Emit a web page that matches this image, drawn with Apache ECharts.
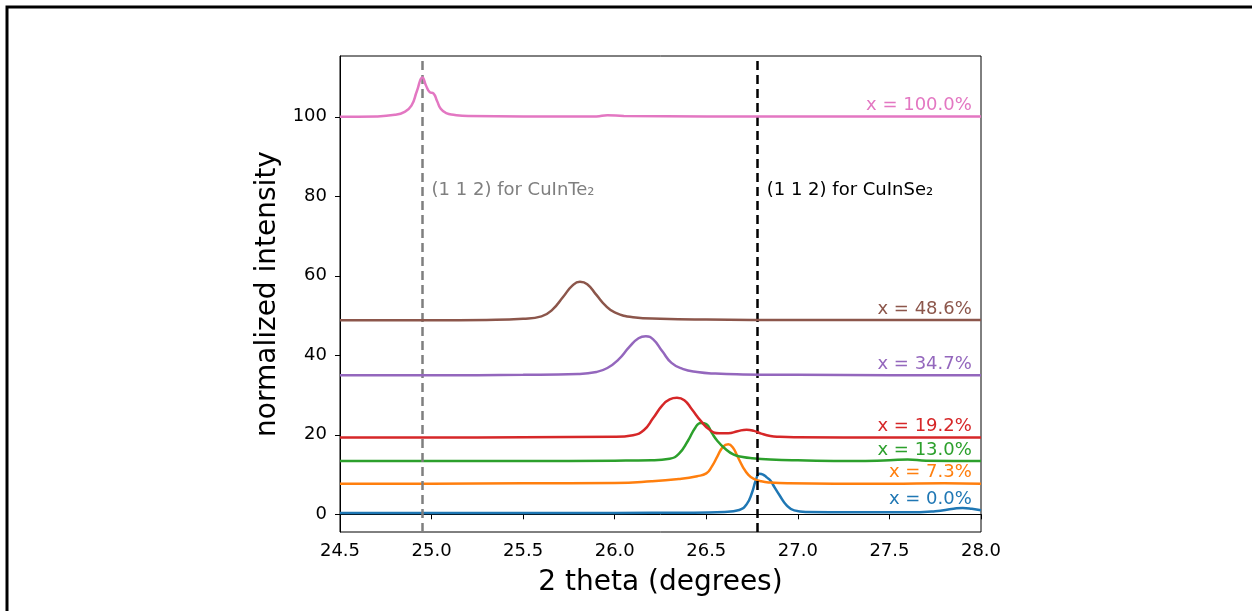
<!DOCTYPE html>
<html>
<head>
<meta charset="utf-8">
<script src="https://cdn.jsdelivr.net/npm/echarts@6/dist/echarts.min.js"></script>
<style>
html,body{margin:0;padding:0;background:#fff;}
#chart{width:1252px;height:611px;}
</style>
</head>
<body>
<div id="chart"></div>
<script>
// ---- data ----
const xTicks = [24.5, 25.0, 25.5, 26.0, 26.5, 27.0, 27.5, 28.0];
const yTicks = [0, 20, 40, 60, 80, 100];

const names = ['x = 0.0%', 'x = 7.3%', 'x = 13.0%', 'x = 19.2%', 'x = 34.7%', 'x = 48.6%', 'x = 100.0%'];
const colors = ['#1f77b4', '#ff7f0e', '#2ca02c', '#d62728', '#9467bd', '#8c564b', '#e377c2'];

const theta0 = [24.5, 25.0, 25.5, 26.0, 26.4, 26.6, 26.68, 26.72, 26.75, 26.77, 26.79, 26.81, 26.83, 26.85, 26.87, 26.9, 26.94, 26.98, 27.05, 27.3, 27.6, 27.75, 27.85, 27.9, 27.95, 28.0];
const int0   = [0.3, 0.3, 0.3, 0.35, 0.4, 0.6, 1.1, 2.5, 5.5, 8.5, 10.2, 10.0, 9.3, 8.5, 7.0, 4.8, 2.2, 1.0, 0.6, 0.5, 0.5, 0.8, 1.4, 1.6, 1.4, 1.0];

const theta7 = [24.5, 25.0, 25.5, 26.0, 26.2, 26.35, 26.45, 26.5, 26.53, 26.56, 26.59, 26.62, 26.645, 26.67, 26.7, 26.73, 26.76, 26.8, 26.85, 26.95, 27.2, 27.5, 27.8, 28.0];
const int7   = [7.7, 7.7, 7.8, 7.9, 8.3, 8.9, 9.6, 10.3, 12.0, 14.5, 16.9, 17.6, 16.8, 14.6, 11.9, 9.9, 8.9, 8.3, 8.0, 7.8, 7.7, 7.7, 7.8, 7.7];

const theta13 = [24.5, 25.0, 25.5, 26.0, 26.2, 26.3, 26.35, 26.4, 26.44, 26.47, 26.5, 26.53, 26.56, 26.6, 26.65, 26.7, 26.75, 26.85, 27.0, 27.3, 27.5, 27.6, 27.7, 28.0];
const int13   = [13.4, 13.4, 13.4, 13.5, 13.6, 14.0, 15.2, 18.5, 21.8, 23.0, 22.7, 20.5, 18.5, 16.6, 15.0, 14.4, 14.1, 13.8, 13.6, 13.4, 13.6, 13.8, 13.5, 13.4];

const theta19 = [24.5, 25.0, 25.5, 26.0, 26.1, 26.16, 26.21, 26.26, 26.3, 26.34, 26.38, 26.42, 26.47, 26.52, 26.57, 26.62, 26.67, 26.72, 26.76, 26.8, 26.85, 26.9, 27.0, 27.5, 28.0];
const int19   = [19.3, 19.3, 19.4, 19.5, 19.9, 21.2, 24.2, 27.4, 28.9, 29.3, 28.7, 26.5, 23.5, 21.2, 20.4, 20.4, 20.9, 21.3, 21.0, 20.3, 19.7, 19.5, 19.4, 19.3, 19.3];

const theta35 = [24.5, 25.0, 25.5, 25.8, 25.9, 25.96, 26.02, 26.08, 26.13, 26.17, 26.21, 26.26, 26.31, 26.37, 26.45, 26.55, 26.7, 27.0, 27.5, 28.0];
const int35   = [35.0, 35.0, 35.1, 35.3, 35.8, 36.8, 38.9, 42.1, 44.3, 44.8, 44.0, 41.0, 38.1, 36.6, 35.8, 35.4, 35.2, 35.1, 35.0, 35.0];

const theta49 = [24.5, 25.0, 25.3, 25.5, 25.6, 25.66, 25.72, 25.77, 25.81, 25.85, 25.9, 25.95, 26.0, 26.1, 26.25, 26.5, 27.0, 27.5, 28.0];
const int49   = [48.8, 48.8, 48.9, 49.2, 49.8, 51.5, 54.8, 57.6, 58.5, 57.9, 55.2, 52.5, 50.8, 49.6, 49.2, 49.0, 48.9, 48.9, 48.9];

const theta100 = [24.5, 24.7, 24.8, 24.85, 24.89, 24.92, 24.95, 24.97, 24.99, 25.01, 25.03, 25.05, 25.08, 25.12, 25.2, 25.5, 25.9, 25.96, 26.05, 26.5, 27.0, 27.5, 28.0];
const int100   = [100.0, 100.1, 100.5, 101.2, 102.8, 106.5, 109.9, 107.8, 106.2, 105.9, 104.0, 102.0, 100.9, 100.5, 100.2, 100.1, 100.1, 100.4, 100.2, 100.1, 100.1, 100.1, 100.1];

const thetas = [theta0, theta7, theta13, theta19, theta35, theta49, theta100];
const ints = [int0, int7, int13, int19, int35, int49, int100];

const refTe = 24.95, refSe = 26.78;
const refLabels = ['(1 1 2) for CuInTe\u2082', '(1 1 2) for CuInSe\u2082'];
const refLabelX = [25.0, 26.83], refLabelY = 81.5;

// ---- chart ----
const FONT = 'DejaVu Sans';
const chart = echarts.init(document.getElementById('chart'), null, {renderer: 'canvas'});

const series = names.map((n, i) => ({
  name: n,
  type: 'line',
  data: thetas[i].map((t, k) => [t, ints[i][k]]),
  showSymbol: false,
  symbol: 'none',
  smooth: 0.5,
  lineStyle: {color: colors[i], width: 2.5},
  itemStyle: {color: colors[i]},
  silent: true,
  animation: false,
  z: 2 + i
}));
series[series.length - 1].markLine = {
  silent: true,
  symbol: ['none', 'none'],
  label: {show: false},
  animation: false,
  data: [
    {xAxis: refTe, lineStyle: {color: '#7f7f7f', width: 2.5, type: [9, 5]}},
    {xAxis: refSe, lineStyle: {color: '#000000', width: 2.5, type: [9, 5]}}
  ]
};

chart.setOption({
  animation: false,
  backgroundColor: '#ffffff',
  grid: {left: 340, right: 271, top: 56, bottom: 79, outerBoundsMode: 'none', containLabel: false,
         show: true, borderColor: '#000', borderWidth: 1, backgroundColor: 'transparent'},
  xAxis: {
    type: 'value', min: 24.5, max: 28.0, interval: 0.5,
    name: '2 theta (degrees)', nameLocation: 'middle', nameGap: 37,
    nameTextStyle: {fontFamily: FONT, fontSize: 28, color: '#000'},
    axisLine: {show: true, lineStyle: {color: '#000', width: 1}},
    axisTick: {show: true, length: 5, lineStyle: {color: '#000', width: 1}},
    axisLabel: {fontFamily: FONT, fontSize: 18, color: '#000', margin: 10, formatter: v => v.toFixed(1)},
    splitLine: {show: false}
  },
  yAxis: {
    type: 'value', min: -4.45, max: 115.3,
    name: 'normalized intensity', nameLocation: 'middle', nameGap: 50, nameRotate: 90,
    nameTextStyle: {fontFamily: FONT, fontSize: 28, color: '#000'},
    axisLine: {show: true, lineStyle: {color: '#000', width: 1}},
    axisTick: {show: true, length: 5, customValues: yTicks, lineStyle: {color: '#000', width: 1}},
    axisLabel: {fontFamily: FONT, fontSize: 18, color: '#000', margin: 13, customValues: yTicks},
    splitLine: {show: false}
  },
  series: series
});

// labels placed through the chart's own scales
const graphics = [{
  type: 'rect', silent: true, z: 100,
  shape: {x: 7, y: 7, width: 1400, height: 800},
  style: {fill: 'none', stroke: '#000', lineWidth: 3}
}];
names.forEach((n, i) => {
  const arr = ints[i];
  const p = chart.convertToPixel({gridIndex: 0}, [27.95, arr[arr.length - 1]]);
  graphics.push({
    type: 'text', silent: true, z: 50,
    x: p[0], y: p[1] - 2,
    style: {text: n, fill: colors[i], font: '18px "DejaVu Sans"', textAlign: 'right', textVerticalAlign: 'bottom'}
  });
});
refLabels.forEach((t, i) => {
  const p = chart.convertToPixel({gridIndex: 0}, [refLabelX[i], refLabelY]);
  graphics.push({
    type: 'text', silent: true, z: 50,
    x: p[0], y: p[1],
    style: {text: t, fill: i === 0 ? '#7f7f7f' : '#000000', font: '18px "DejaVu Sans"', textAlign: 'left', textVerticalAlign: 'middle'}
  });
});
chart.setOption({graphic: graphics});
</script>
</body>
</html>
